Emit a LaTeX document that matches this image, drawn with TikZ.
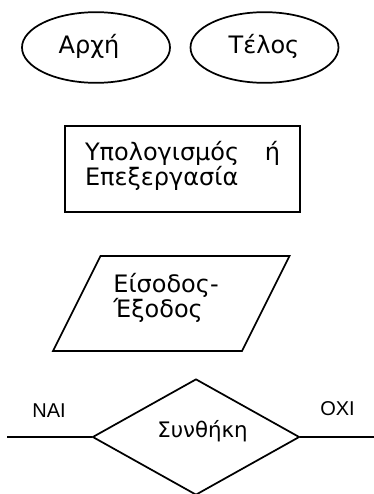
\documentclass[tikz,border=0pt]{standalone}
\usepackage{fontspec}
\setmainfont{DejaVu Sans}
\newfontfamily\latinfont{Liberation Sans}
\usetikzlibrary{shapes.geometric}
\usetikzlibrary{positioning}
\usetikzlibrary{calc}

\tikzset{
  symbol/.style={draw, line width=1.3pt, inner sep=0pt},
  symtext/.style={inner sep=0pt, align=left, font=\fontsize{18}{19}\selectfont},
  small text/.style={inner sep=0pt, font=\fontsize{16}{18}\selectfont},
  branch text/.style={inner sep=0pt, font=\latinfont\fontsize{15}{17}\selectfont}
}

\begin{document}
\begin{tikzpicture}[x=0.75pt, y=-0.75pt]
 \useasboundingbox (0,0) rectangle (374,494);

 %start and end
 \foreach \cx/\tx/\name/\txt in {96/89/start/Αρχή, 264.5/264/stop/Τέλος} {
   \node[symbol, ellipse, minimum width=111pt, minimum height=53pt] (\name) at (\cx,47.5) {};
   \node[symtext] (\name-text) at (\tx,46.5) {\txt};
 }

 %process
 \node[symbol, minimum width=176.25pt, minimum height=64.5pt] (proc) at (182.5,169) {};
 \node[symtext, text width=146.25pt] (proc-text) at (182.5,166) {Υπολογισμός\hfill ή\\Επεξεργασία};

 %input - output
 \def\dx{47.5}
 \coordinate (io-a) at (53,351);
 \coordinate (io-b) at (242,351);
 \draw[line width=1.3pt, line join=miter] (io-a) -- (io-b) -- ++(\dx,-95) -- ($(io-a)+(\dx,-95)$) -- cycle;
 \node[symtext] (io-text) at (166,298) {Είσοδος-\\Έξοδος};

 %condition
 \node[symbol, diamond, minimum width=155.25pt, minimum height=87pt] (cond) at (196,437) {};
 \node[small text] (cond-text) at (202.5,431) {Συνθήκη};
 \coordinate (yes-end) at (7,437);
 \coordinate (no-end) at (374,437);
 \draw[line width=1.3pt] (cond.west) -- (yes-end);
 \draw[line width=1.3pt] (cond.east) -- (no-end);
 \node[branch text] (yes) at (49,411) {ΝΑΙ};
 \node[branch text] (no) at (337.5,408.5) {ΟΧΙ};

\end{tikzpicture}
\end{document}
